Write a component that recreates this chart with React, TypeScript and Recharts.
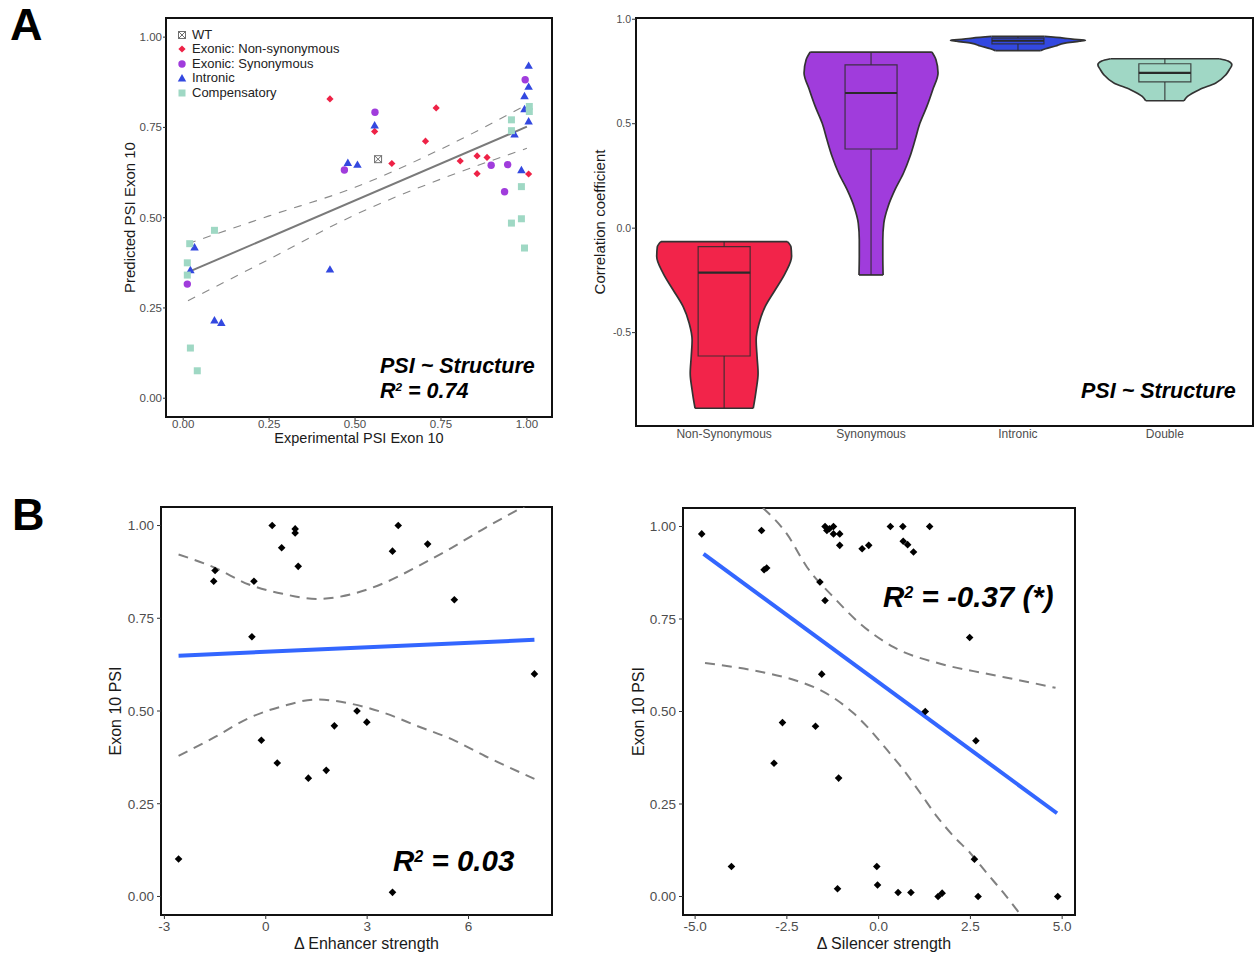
import React from "react";
import {
  ScatterChart, ComposedChart, Scatter, Area, XAxis, YAxis,
  ReferenceArea, ReferenceLine, Legend,
} from "recharts";

const FONT = "'Liberation Sans', Arial, Helvetica, sans-serif";
const TICK_GREY = "#4d4d4d";
const TITLE_INK = "#1a1a1a";

// ── Panel A left: predicted vs experimental PSI ─────────────────────────────
const wtPoints = [{ x: 0.567, y: 0.662 }];
const nonSynPoints = [
  { x: 0.427, y: 0.829 }, { x: 0.736, y: 0.804 }, { x: 0.557, y: 0.739 }, { x: 0.705, y: 0.712 },
  { x: 0.607, y: 0.65 }, { x: 0.806, y: 0.657 }, { x: 0.855, y: 0.671 }, { x: 0.884, y: 0.667 },
  { x: 0.855, y: 0.622 }, { x: 1.005, y: 0.621 },
];
const synPoints = [
  { x: 0.558, y: 0.792 }, { x: 0.469, y: 0.632 }, { x: 0.896, y: 0.645 }, { x: 0.944, y: 0.647 },
  { x: 0.935, y: 0.572 }, { x: 0.995, y: 0.882 }, { x: 0.012, y: 0.316 },
];
const intronicPoints = [
  { x: 1.005, y: 0.919 }, { x: 1.005, y: 0.861 }, { x: 0.993, y: 0.835 }, { x: 0.993, y: 0.799 },
  { x: 1.005, y: 0.765 }, { x: 0.964, y: 0.729 }, { x: 0.557, y: 0.754 }, { x: 0.479, y: 0.65 },
  { x: 0.507, y: 0.645 }, { x: 0.984, y: 0.63 }, { x: 0.427, y: 0.355 }, { x: 0.033, y: 0.416 },
  { x: 0.021, y: 0.353 }, { x: 0.091, y: 0.214 }, { x: 0.111, y: 0.207 },
];
const compensatoryPoints = [
  { x: 1.007, y: 0.808 }, { x: 1.007, y: 0.794 }, { x: 0.955, y: 0.771 }, { x: 0.955, y: 0.741 },
  { x: 0.984, y: 0.586 }, { x: 0.955, y: 0.485 }, { x: 0.984, y: 0.497 }, { x: 0.993, y: 0.416 },
  { x: 0.091, y: 0.465 }, { x: 0.019, y: 0.428 }, { x: 0.012, y: 0.375 }, { x: 0.012, y: 0.341 },
  { x: 0.021, y: 0.139 }, { x: 0.041, y: 0.076 },
];
const fitA = [{ x: 0.014, y: 0.349 }, { x: 1.0, y: 0.752 }];
const ciUpperA = [
  { x: 0.014, y: 0.428 }, { x: 0.25, y: 0.505 }, { x: 0.5, y: 0.584 }, { x: 0.75, y: 0.69 }, { x: 1.0, y: 0.813 },
];
const ciLowerA = [
  { x: 0.014, y: 0.27 }, { x: 0.25, y: 0.385 }, { x: 0.5, y: 0.508 }, { x: 0.75, y: 0.607 }, { x: 1.0, y: 0.692 },
];
const psiTicks = [0, 0.25, 0.5, 0.75, 1];

// ── Panel A right: correlation violins ──────────────────────────────────────
const groups = ["Non-Synonymous", "Synonymous", "Intronic", "Double"];
const groupColors = ["#f2244a", "#a03cdc", "#3348e0", "#a0d7c5"];
// [correlation, half width in category units], bottom to top
const nonSynViolin = [
  [-0.862, 0.198], [-0.839, 0.204], [-0.775, 0.218], [-0.695, 0.231], [-0.615, 0.224], [-0.535, 0.218],
  [-0.455, 0.238], [-0.376, 0.279], [-0.296, 0.347], [-0.216, 0.415], [-0.136, 0.459], [-0.09, 0.455],
  [-0.064, 0.43],
];
const synViolin = [
  [-0.224, 0.082], [-0.136, 0.08], [-0.056, 0.08], [0.024, 0.087], [0.104, 0.116], [0.184, 0.163],
  [0.264, 0.221], [0.343, 0.265], [0.423, 0.3], [0.503, 0.333], [0.583, 0.38], [0.663, 0.42],
  [0.743, 0.456], [0.806, 0.442], [0.843, 0.414],
];
const intronicViolin = [
  [0.85, 0.154], [0.859, 0.188], [0.872, 0.256], [0.886, 0.32], [0.895, 0.42], [0.9, 0.459],
  [0.905, 0.37], [0.91, 0.31], [0.918, 0.18],
];
const doubleViolin = [
  [0.61, 0.13], [0.631, 0.154], [0.663, 0.234], [0.695, 0.347], [0.734, 0.415], [0.76, 0.44],
  [0.782, 0.456], [0.8, 0.43], [0.811, 0.37],
];
// [min, q1, median, q3, max]
const nonSynBox = [-0.862, -0.612, -0.213, -0.088, -0.064];
const synBox = [-0.224, 0.379, 0.647, 0.782, 0.843];
const intronicBox = [0.85, 0.882, 0.897, 0.91, 0.918];
const doubleBox = [0.61, 0.7, 0.743, 0.787, 0.811];
const corrTicks = [-0.5, 0, 0.5, 1];

// ── Panel B: splicing regulatory element strength ───────────────────────────
const enhancerPoints = [
  { x: -2.58, y: 0.101 }, { x: -1.54, y: 0.85 }, { x: -1.5, y: 0.879 }, { x: -0.41, y: 0.7 },
  { x: -0.35, y: 0.85 }, { x: -0.13, y: 0.421 }, { x: 0.19, y: 1.0 }, { x: 0.34, y: 0.36 },
  { x: 0.47, y: 0.94 }, { x: 0.87, y: 0.991 }, { x: 0.87, y: 0.98 }, { x: 0.96, y: 0.89 },
  { x: 1.26, y: 0.319 }, { x: 1.79, y: 0.34 }, { x: 2.03, y: 0.46 }, { x: 2.7, y: 0.5 },
  { x: 2.99, y: 0.47 }, { x: 3.75, y: 0.931 }, { x: 3.75, y: 0.011 }, { x: 3.92, y: 1.0 },
  { x: 4.79, y: 0.95 }, { x: 5.58, y: 0.8 }, { x: 7.95, y: 0.6 },
];
const enhancerFit = [{ x: -2.58, y: 0.649 }, { x: 7.95, y: 0.692 }];
const enhancerUpper = [
  { x: -2.58, y: 0.922 }, { x: -1.5, y: 0.886 }, { x: -0.5, y: 0.841 }, { x: 0.5, y: 0.816 },
  { x: 1.5, y: 0.802 }, { x: 2.5, y: 0.814 }, { x: 3.5, y: 0.845 }, { x: 4.5, y: 0.89 },
  { x: 5.5, y: 0.94 }, { x: 6.5, y: 0.994 }, { x: 7.95, y: 1.066 },
];
const enhancerLower = [
  { x: -2.58, y: 0.379 }, { x: -1.5, y: 0.43 }, { x: -0.5, y: 0.481 }, { x: 0.5, y: 0.513 },
  { x: 1.5, y: 0.531 }, { x: 2.5, y: 0.52 }, { x: 3.5, y: 0.495 }, { x: 4.5, y: 0.459 },
  { x: 5.5, y: 0.424 }, { x: 6.5, y: 0.378 }, { x: 7.95, y: 0.317 },
];
const enhancerTicks = [-3, 0, 3, 6];

const silencerPoints = [
  { x: -4.82, y: 0.98 }, { x: -4.01, y: 0.081 }, { x: -3.19, y: 0.989 }, { x: -3.12, y: 0.883 },
  { x: -3.05, y: 0.888 }, { x: -2.85, y: 0.36 }, { x: -2.62, y: 0.47 }, { x: -1.72, y: 0.46 },
  { x: -1.6, y: 0.85 }, { x: -1.55, y: 0.601 }, { x: -1.46, y: 0.8 }, { x: -1.46, y: 1.0 },
  { x: -1.41, y: 0.989 }, { x: -1.34, y: 0.994 }, { x: -1.23, y: 1.0 }, { x: -1.23, y: 0.98 },
  { x: -1.09, y: 0.32 }, { x: -1.12, y: 0.021 }, { x: -1.06, y: 0.98 }, { x: -1.06, y: 0.949 },
  { x: -0.45, y: 0.94 }, { x: -0.27, y: 0.949 }, { x: -0.05, y: 0.081 }, { x: -0.03, y: 0.031 },
  { x: 0.32, y: 1.0 }, { x: 0.53, y: 0.011 }, { x: 0.66, y: 1.0 }, { x: 0.67, y: 0.96 },
  { x: 0.79, y: 0.951 }, { x: 0.95, y: 0.931 }, { x: 0.88, y: 0.011 }, { x: 1.27, y: 0.5 },
  { x: 1.39, y: 1.0 }, { x: 1.62, y: 0.0 }, { x: 1.73, y: 0.009 }, { x: 2.48, y: 0.7 },
  { x: 2.61, y: 0.101 }, { x: 2.65, y: 0.421 }, { x: 2.71, y: 0.0 }, { x: 4.88, y: 0.0 },
];
const silencerFit = [{ x: -4.77, y: 0.926 }, { x: 4.86, y: 0.225 }];
const silencerUpper = [
  { x: -3.15, y: 1.05 }, { x: -2.5, y: 0.98 }, { x: -1.95, y: 0.89 }, { x: -1.23, y: 0.809 },
  { x: -0.5, y: 0.737 }, { x: 0.41, y: 0.674 }, { x: 1.68, y: 0.629 }, { x: 2.95, y: 0.602 },
  { x: 3.86, y: 0.584 }, { x: 4.82, y: 0.564 },
];
const silencerLower = [
  { x: -4.73, y: 0.631 }, { x: -3.41, y: 0.611 }, { x: -2.14, y: 0.58 }, { x: -1.59, y: 0.558 },
  { x: -1.14, y: 0.531 }, { x: -0.68, y: 0.495 }, { x: -0.23, y: 0.45 }, { x: 0.23, y: 0.396 },
  { x: 0.68, y: 0.342 }, { x: 1.14, y: 0.279 }, { x: 1.59, y: 0.216 }, { x: 2.05, y: 0.162 },
  { x: 2.5, y: 0.117 }, { x: 2.95, y: 0.063 }, { x: 3.41, y: 0.009 }, { x: 3.95, y: -0.06 },
];
const silencerTicks = [-5, -2.5, 0, 2.5, 5];

const R2_STRUCTURE = "0.74";
const R2_ENHANCER = "0.03";
const R2_SILENCER = "-0.37 (*)";

// ── marker shapes ───────────────────────────────────────────────────────────
type Pt = { cx?: number; cy?: number };
const diamond = (r: number, fill: string) => ({ cx = 0, cy = 0 }: Pt) => (
  <path d={`M${cx},${cy - r}L${cx + r},${cy}L${cx},${cy + r}L${cx - r},${cy}Z`} fill={fill} />
);
const dot = (r: number, fill: string) => ({ cx = 0, cy = 0 }: Pt) => <circle cx={cx} cy={cy} r={r} fill={fill} />;
const triangle = (s: number, fill: string) => ({ cx = 0, cy = 0 }: Pt) => {
  const h = s * 0.866;
  return <path d={`M${cx},${cy - (2 * h) / 3}L${cx + s / 2},${cy + h / 3}L${cx - s / 2},${cy + h / 3}Z`} fill={fill} />;
};
const square = (s: number, fill: string) => ({ cx = 0, cy = 0 }: Pt) => (
  <rect x={cx - s / 2} y={cy - s / 2} width={s} height={s} fill={fill} />
);
const wtMark = (s: number) => ({ cx = 0, cy = 0 }: Pt) => {
  const h = s / 2;
  return (
    <g stroke="#6f6f6f" strokeWidth={1} fill="none">
      <rect x={cx - h} y={cy - h} width={s} height={s} />
      <path d={`M${cx - h},${cy - h}L${cx + h},${cy + h}M${cx + h},${cy - h}L${cx - h},${cy + h}`} />
    </g>
  );
};
const noDot = () => <g />;

const seriesA = [
  { name: "WT", data: wtPoints, shape: wtMark(7) },
  { name: "Exonic: Non-synonymous", data: nonSynPoints, shape: diamond(3.6, "#ee2246") },
  { name: "Exonic: Synonymous", data: synPoints, shape: dot(3.7, "#a03cdc") },
  { name: "Intronic", data: intronicPoints, shape: triangle(8.5, "#3348e0") },
  { name: "Compensatory", data: compensatoryPoints, shape: square(7, "#9fd8c4") },
];

function LegendA() {
  return (
    <div style={{ fontSize: 13, color: "#222", lineHeight: "14.6px" }}>
      {seriesA.map((s) => (
        <div key={s.name} style={{ display: "flex", alignItems: "center", height: 14.6 }}>
          <svg width={10} height={10} style={{ flex: "none" }}>{s.shape({ cx: 5, cy: 5 })}</svg>
          <span style={{ marginLeft: 5, whiteSpace: "nowrap" }}>{s.name}</span>
        </div>
      ))}
    </div>
  );
}

function PanelAScatter() {
  const tick = { fontSize: 11.5, fill: TICK_GREY };
  return (
    <ScatterChart width={460} height={452} margin={{ top: 18, right: 8, bottom: 0, left: 0 }}>
      <XAxis
        type="number" dataKey="x" domain={[-0.05, 1.073]} ticks={psiTicks} interval={0} allowDataOverflow
        tickFormatter={(v: number) => v.toFixed(2)} axisLine={false} tickSize={3} tickMargin={0}
        tickLine={{ stroke: "#333" }} tick={tick} height={35}
        label={{ value: "Experimental PSI Exon 10", position: "insideBottom", offset: 9, style: { fontSize: 14.5, fill: TITLE_INK } }}
      />
      <YAxis
        type="number" dataKey="y" domain={[-0.052, 1.053]} ticks={psiTicks} interval={0} allowDataOverflow
        tickFormatter={(v: number) => v.toFixed(2)} axisLine={false} tickSize={3} tickMargin={1}
        tickLine={{ stroke: "#333" }} tick={tick} width={66}
        label={{ value: "Predicted PSI Exon 10", angle: -90, position: "insideLeft", offset: 30, style: { fontSize: 15, fill: TITLE_INK, textAnchor: "middle" } }}
      />
      <Scatter data={ciUpperA} shape={noDot} line={{ stroke: "#8a8a8a", strokeWidth: 1.1, strokeDasharray: "8 8" }} lineJointType="monotoneX" legendType="none" isAnimationActive={false} />
      <Scatter data={ciLowerA} shape={noDot} line={{ stroke: "#8a8a8a", strokeWidth: 1.1, strokeDasharray: "8 8" }} lineJointType="monotoneX" legendType="none" isAnimationActive={false} />
      <Scatter data={fitA} shape={noDot} line={{ stroke: "#7a7a7a", strokeWidth: 2 }} legendType="none" isAnimationActive={false} />
      {seriesA.map((s) => (
        <Scatter key={s.name} name={s.name} data={s.data} shape={s.shape} isAnimationActive={false} />
      ))}
      <ReferenceArea x1={-0.05} x2={1.073} y1={-0.052} y2={1.053} fill="none" stroke="#111" strokeWidth={2} ifOverflow="visible" />
      <Legend layout="vertical" align="center" verticalAlign="middle" content={() => <LegendA />} wrapperStyle={{ top: 27.5, left: 77, width: 220 }} />
    </ScatterChart>
  );
}

// ── violins ────────────────────────────────────────────────────────────────
const violinKeys = ["nonSyn", "syn", "intronic", "double"];
const violinProfiles = [nonSynViolin, synViolin, intronicViolin, doubleViolin];
const boxStats = [nonSynBox, synBox, intronicBox, doubleBox];
const BOX_HALF = 0.177;

const violinRows = violinProfiles.flatMap((profile, gi) =>
  profile.map(([v, w]) => {
    const row: Record<string, any> = { v };
    violinKeys.forEach((k, ki) => {
      row[k] = ki === gi ? [gi + 1 - w, gi + 1 + w] : [null, null];
    });
    return row;
  })
);

function PanelAViolin() {
  const edge = "#333";
  const boxInk = "rgba(45,45,45,0.85)";
  return (
    <ComposedChart layout="vertical" width={695} height={450} data={violinRows} margin={{ top: 18, right: 2, bottom: 0, left: 0 }}>
      <XAxis
        type="number" domain={[0.4, 4.6]} ticks={[1, 2, 3, 4]} interval={0} allowDataOverflow
        tickFormatter={(v: number) => groups[v - 1]} axisLine={false} tickLine={false} tickSize={0} tickMargin={3}
        tick={{ fontSize: 12, fill: TICK_GREY }} height={24}
      />
      <YAxis
        type="number" dataKey="v" domain={[-0.947, 1.006]} ticks={corrTicks} interval={0} allowDataOverflow reversed
        tickFormatter={(v: number) => v.toFixed(1)} axisLine={false} tickSize={4} tickMargin={1}
        tickLine={{ stroke: "#333" }} tick={{ fontSize: 10.5, fill: TICK_GREY }} width={76}
        label={{ value: "Correlation coefficient", angle: -90, position: "insideLeft", offset: 40, style: { fontSize: 15, fill: TITLE_INK, textAnchor: "middle" } }}
      />
      {violinKeys.map((k, gi) => (
        <Area key={k} dataKey={k} type="monotone" fill={groupColors[gi]} fillOpacity={1} stroke={edge} strokeWidth={1.7}
          connectNulls={false} dot={false} activeDot={false} isAnimationActive={false} />
      ))}
      {violinProfiles.map((profile, gi) => {
        const c = gi + 1;
        const [yb, wb] = profile[0];
        const [yt, wt] = profile[profile.length - 1];
        return [
          <ReferenceLine key={`b${gi}`} segment={[{ x: c - wb, y: yb }, { x: c + wb, y: yb }]} stroke={edge} strokeWidth={1.7} ifOverflow="visible" />,
          <ReferenceLine key={`t${gi}`} segment={[{ x: c - wt, y: yt }, { x: c + wt, y: yt }]} stroke={edge} strokeWidth={1.7} ifOverflow="visible" />,
        ];
      })}
      {boxStats.map(([mn, q1, med, q3, mx], gi) => {
        const c = gi + 1;
        return [
          <ReferenceLine key={`wl${gi}`} segment={[{ x: c, y: mn }, { x: c, y: q1 }]} stroke={boxInk} strokeWidth={1.2} ifOverflow="visible" />,
          <ReferenceLine key={`wh${gi}`} segment={[{ x: c, y: q3 }, { x: c, y: mx }]} stroke={boxInk} strokeWidth={1.2} ifOverflow="visible" />,
          <ReferenceArea key={`bx${gi}`} x1={c - BOX_HALF} x2={c + BOX_HALF} y1={q1} y2={q3} fill="none" stroke={boxInk} strokeWidth={1.2} ifOverflow="visible" />,
          <ReferenceLine key={`md${gi}`} segment={[{ x: c - BOX_HALF, y: med }, { x: c + BOX_HALF, y: med }]} stroke="#2a2a2a" strokeWidth={2.2} ifOverflow="visible" />,
        ];
      })}
      <ReferenceArea x1={0.4} x2={4.6} y1={-0.947} y2={1.006} fill="none" stroke="#111" strokeWidth={2} ifOverflow="visible" />
    </ComposedChart>
  );
}

// ── Panel B scatter ─────────────────────────────────────────────────────────
type XY = { x: number; y: number };
type PanelBProps = {
  points: XY[]; fit: XY[]; upper: XY[]; lower: XY[];
  xDomain: [number, number]; xTicks: number[]; digits: number; xTitle: string;
  marginTop: number; marginRight: number; yTitleOffset: number; xTitleDx: number;
};

function PanelB(p: PanelBProps) {
  const tick = { fontSize: 13.5, fill: TICK_GREY };
  const dash = { stroke: "#808080", strokeWidth: 2, strokeDasharray: "10 7" };
  return (
    <ScatterChart width={465} height={460} margin={{ top: p.marginTop, right: p.marginRight, bottom: 0, left: 0 }}>
      <XAxis
        type="number" dataKey="x" domain={p.xDomain} ticks={p.xTicks} interval={0} allowDataOverflow
        tickFormatter={(v: number) => v.toFixed(p.digits)} axisLine={false} tickSize={4} tickMargin={2}
        tickLine={{ stroke: "#333" }} tick={tick} height={40}
        label={{ value: p.xTitle, position: "insideBottom", offset: 6.5, dx: p.xTitleDx, style: { fontSize: 16, fill: TITLE_INK } }}
      />
      <YAxis
        type="number" dataKey="y" domain={[-0.05, 1.05]} ticks={psiTicks} interval={0} allowDataOverflow
        tickFormatter={(v: number) => v.toFixed(2)} axisLine={false} tickSize={4} tickMargin={3}
        tickLine={{ stroke: "#333" }} tick={tick} width={66}
        label={{ value: "Exon 10 PSI", angle: -90, position: "insideLeft", offset: p.yTitleOffset, style: { fontSize: 16, fill: TITLE_INK, textAnchor: "middle" } }}
      />
      <Scatter data={p.upper} shape={noDot} line={dash} lineJointType="monotoneX" isAnimationActive={false} />
      <Scatter data={p.lower} shape={noDot} line={dash} lineJointType="monotoneX" isAnimationActive={false} />
      <Scatter data={p.fit} shape={noDot} line={{ stroke: "#3366ff", strokeWidth: 4 }} isAnimationActive={false} />
      <Scatter data={p.points} shape={diamond(3.8, "#000")} isAnimationActive={false} />
      <ReferenceArea x1={p.xDomain[0]} x2={p.xDomain[1]} y1={-0.05} y2={1.05} fill="none" stroke="#111" strokeWidth={2} ifOverflow="visible" />
    </ScatterChart>
  );
}

function R2({ x, y, fs, value }: { x: number; y: number; fs: number; value: string }) {
  return (
    <text x={x} y={y} fontSize={fs} fontWeight="bold" fontStyle="italic" fill="#000">
      R<tspan fontSize={fs * 0.55} dy={-fs * 0.32}>2</tspan>
      <tspan dy={fs * 0.32}>{` = ${value}`}</tspan>
    </text>
  );
}

export default function App() {
  return (
    <div style={{ position: "absolute", left: 0, top: 0, width: 1255, height: 955, background: "#fff", fontFamily: FONT, overflow: "hidden" }}>
      <div style={{ position: "absolute", left: 100, top: 0 }}><PanelAScatter /></div>
      <div style={{ position: "absolute", left: 560, top: 0 }}><PanelAViolin /></div>
      <div style={{ position: "absolute", left: 95, top: 495 }}>
        <PanelB points={enhancerPoints} fit={enhancerFit} upper={enhancerUpper} lower={enhancerLower}
          xDomain={[-3.1, 8.47]} xTicks={enhancerTicks} digits={0} xTitle="Δ Enhancer strength"
          marginTop={12} marginRight={8} yTitleOffset={20} xTitleDx={10} />
      </div>
      <div style={{ position: "absolute", left: 617, top: 495 }}>
        <PanelB points={silencerPoints} fit={silencerFit} upper={silencerUpper} lower={silencerLower}
          xDomain={[-5.33, 5.35]} xTicks={silencerTicks} digits={1} xTitle="Δ Silencer strength"
          marginTop={13} marginRight={7} yTitleOffset={21} xTitleDx={5} />
      </div>
      <svg width={1255} height={955} style={{ position: "absolute", left: 0, top: 0, pointerEvents: "none" }} fontFamily={FONT}>
        <text x={10} y={39.5} fontSize={45} fontWeight="bold">A</text>
        <text x={12} y={530} fontSize={45} fontWeight="bold">B</text>
        <text x={380} y={373} fontSize={21.5} fontWeight="bold" fontStyle="italic">PSI ~ Structure</text>
        <R2 x={380} y={398} fs={21.5} value={R2_STRUCTURE} />
        <text x={1081} y={398} fontSize={21.5} fontWeight="bold" fontStyle="italic">PSI ~ Structure</text>
        <R2 x={393} y={871} fs={29.5} value={R2_ENHANCER} />
        <R2 x={883} y={607} fs={29.5} value={R2_SILENCER} />
      </svg>
    </div>
  );
}
